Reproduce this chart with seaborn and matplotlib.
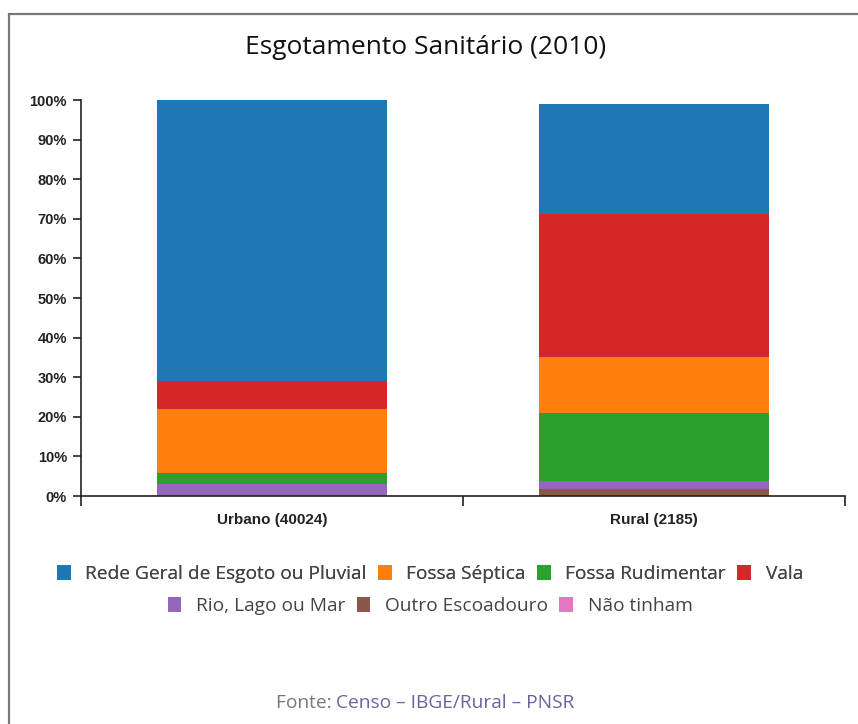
import numpy as np
import seaborn as sns
import matplotlib.pyplot as plt
from matplotlib.lines import Line2D
from matplotlib.patches import Patch
from matplotlib.ticker import FixedLocator, PercentFormatter

# --- data ---
categories = ['Urbano (40024)', 'Rural (2185)']
series = ['Rede Geral de Esgoto ou Pluvial', 'Fossa Séptica', 'Fossa Rudimentar',
          'Vala', 'Rio, Lago ou Mar', 'Outro Escoadouro', 'Não tinham']
rede = [71.0, 27.8]
fossa_septica = [16.2, 14.2]
fossa_rudimentar = [2.7, 17.2]
vala = [7.1, 36.0]
rio = [2.9, 2.0]
outro = [0.1, 1.8]
nao_tinham = [0.0, 0.0]
colors = ['#1f77b4', '#ff7f0e', '#2ca02c', '#d62728', '#9467bd', '#8c564b', '#e377c2']
values = [rede, fossa_septica, fossa_rudimentar, vala, rio, outro, nao_tinham]

# stacking order, bottom to top
stack_order = ['Não tinham', 'Outro Escoadouro', 'Rio, Lago ou Mar', 'Fossa Rudimentar',
               'Fossa Séptica', 'Vala', 'Rede Geral de Esgoto ou Pluvial']

sns.set_theme(style='white')
plt.rcParams['font.family'] = ['Open Sans', 'DejaVu Sans']

fig = plt.figure(figsize=(8.58, 7.24), dpi=100)
ax = fig.add_axes([81 / 858, 1 - 496 / 724, (845 - 81) / 858, (496 - 100) / 724])

bottom = np.zeros(len(categories))
for name in stack_order:
    i = series.index(name)
    vals = np.array(values[i])
    sns.barplot(x=categories, y=vals, bottom=bottom, color=colors[i], width=0.6,
                errorbar=None, saturation=1, linewidth=0, ax=ax)
    bottom = bottom + vals

ax.set_xlim(-0.5, 1.5)
ax.set_ylim(0, 100)
ax.set_xlabel('')
ax.set_ylabel('')

for s in ['top', 'right']:
    ax.spines[s].set_visible(False)
for s in ['left', 'bottom']:
    ax.spines[s].set_color('#222222')
    ax.spines[s].set_linewidth(1.2)

ax.set_yticks(np.arange(0, 101, 10))
ax.yaxis.set_major_formatter(PercentFormatter(decimals=0))
ax.tick_params(axis='y', length=6, width=1.2, color='#222222', left=True, pad=4,
               labelsize=10.5, labelcolor='#222222')
for lab in ax.get_yticklabels():
    lab.set_family(['Liberation Sans', 'DejaVu Sans'])
    lab.set_fontweight('bold')

ax.xaxis.set_minor_locator(FixedLocator([-0.5, 0.5, 1.5]))
ax.tick_params(axis='x', which='major', length=0, pad=12, labelsize=11, labelcolor='#222222')
ax.tick_params(axis='x', which='minor', length=7, width=1.2, color='#222222', bottom=True)
for lab in ax.get_xticklabels():
    lab.set_family(['Liberation Sans', 'DejaVu Sans'])
    lab.set_fontweight('bold')

fig.text(426 / 858, 1 - 47 / 724, 'Esgotamento Sanitário (2010)', ha='center', va='center',
         fontsize=19, color='#111111')

# legend in two centered rows
handles = [Patch(facecolor=c, edgecolor='none') for c in colors]
leg_kw = dict(frameon=False, fontsize=13.8, handlelength=0.72, handleheight=0.8,
              handletextpad=0.75, columnspacing=0.6, borderaxespad=0, labelcolor='#444444')
leg1 = fig.legend(handles[:4], series[:4], loc='center', ncol=4,
                  bbox_to_anchor=(430 / 858, 1 - 574 / 724), **leg_kw)
fig.add_artist(leg1)
fig.legend(handles[4:], series[4:], loc='center', ncol=3,
           bbox_to_anchor=(430 / 858, 1 - 606 / 724), **leg_kw)

# footer, centered: grey prefix + purple link text
fy = 1 - 703 / 724
t1 = fig.text(0, fy, 'Fonte: ', ha='left', va='center', fontsize=13.8, color='#777777')
t2 = fig.text(0, fy, 'Censo – IBGE/Rural – PNSR', ha='left', va='center', fontsize=13.8,
              color='#6b63a0')
fig.canvas.draw()
w1 = t1.get_window_extent().width
w2 = t2.get_window_extent().width
x0 = 425 - (w1 + w2) / 2
t1.set_x(x0 / fig.bbox.width)
t2.set_x((x0 + w1) / fig.bbox.width)

# frame lines of the screenshot (left and top)
fig.add_artist(Line2D([9 / 858, 9 / 858], [0, 1 - 14 / 724], color='#777777', lw=1.6))
fig.add_artist(Line2D([9 / 858, 1], [1 - 14 / 724, 1 - 14 / 724], color='#777777', lw=1.6))

fig.savefig('out.png', dpi=100, facecolor='white')
